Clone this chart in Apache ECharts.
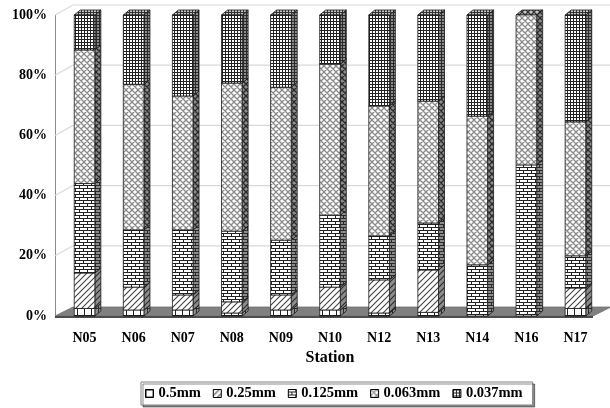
<!DOCTYPE html>
<html>
<head>
<meta charset="utf-8">
<script src="https://cdn.jsdelivr.net/npm/echarts@6/dist/echarts.min.js"></script>
<style>
  html, body { margin: 0; padding: 0; background: #fff; }
  #chart { width: 610px; height: 408px; }
</style>
</head>
<body>
<div id="chart"></div>
<script>
// Grain-size composition (%) per station, bottom to top of each column
const stations   = ['N05', 'N06', 'N07', 'N08', 'N09', 'N10', 'N12', 'N13', 'N14', 'N16', 'N17'];
const sizeClasses = ['0.5mm', '0.25mm', '0.125mm', '0.063mm', '0.037mm'];
const pct0500 = [2.5, 2.0, 2.0, 1.0, 2.0, 2.0, 1.0, 1.2, 0, 0, 2.5];
const pct0250 = [11.8, 7.6, 5.0, 3.7, 5.0, 7.6, 11.0, 14.1, 0, 0, 6.8];
const pct0125 = [29.7, 19.0, 21.6, 23.5, 18.2, 23.9, 14.6, 15.6, 17.0, 50.2, 10.7];
const pct0063 = [44.4, 48.4, 44.5, 49.2, 50.8, 50.2, 43.2, 40.5, 49.4, 49.8, 44.5];
const pct0037 = [11.6, 23.0, 26.9, 22.6, 24.0, 16.3, 30.2, 28.6, 33.6, 0, 35.5];
const percentTicks = [0, 20, 40, 60, 80, 100];

const classValues = [pct0500, pct0250, pct0125, pct0063, pct0037];
const FONT = "'Times New Roman', 'Liberation Serif', serif";

// ---- fill patterns (small repeating canvas tiles) ----
function tile(w, h, bg, draw) {
  const c = document.createElement('canvas');
  c.width = w; c.height = h;
  const g = c.getContext('2d');
  g.fillStyle = bg; g.fillRect(0, 0, w, h);
  draw(g);
  return c;
}
const tileMakers = [
  // large grid
  (bg, fg) => tile(7, 7, bg, g => { g.fillStyle = fg; g.fillRect(0, 0, 7, 1); g.fillRect(0, 0, 1, 7); }),
  // wide upward diagonal
  (bg, fg) => tile(6, 6, bg, g => {
    g.strokeStyle = fg; g.lineWidth = 1.1;
    g.beginPath();
    g.moveTo(-1, 7); g.lineTo(7, -1);
    g.moveTo(-1, 1); g.lineTo(1, -1);
    g.moveTo(5, 7); g.lineTo(7, 5);
    g.stroke();
  }),
  // horizontal brick
  (bg, fg) => tile(8, 6, fg, g => {
    g.fillStyle = bg;
    g.fillRect(0, 0, 7, 2);
    g.fillRect(4, 3, 4, 2);
    g.fillRect(0, 3, 3, 2);
  }),
  // diagonal lattice
  (bg, fg) => tile(6, 6, bg, g => {
    g.strokeStyle = fg; g.lineWidth = 1.3;
    g.beginPath();
    g.moveTo(-1, -1); g.lineTo(7, 7);
    g.moveTo(-1, 7); g.lineTo(7, -1);
    g.moveTo(5, -1); g.lineTo(7, 1);
    g.moveTo(-1, 5); g.lineTo(1, 7);
    g.moveTo(-1, 1); g.lineTo(1, -1);
    g.moveTo(5, 7); g.lineTo(7, 5);
    g.stroke();
  }),
  // small grid
  (bg, fg) => tile(3, 3, bg, g => { g.fillStyle = fg; g.fillRect(0, 0, 3, 1); g.fillRect(0, 0, 1, 3); })
];
const frontFg = ['#222', '#444', '#222', '#8a8a8a', '#222'];
const pat = c => ({ image: c, repeat: 'repeat' });
const frontFill = tileMakers.map((m, i) => pat(m('#ffffff', frontFg[i])));
const sideFill  = tileMakers.map(m => pat(m('#8c8c8c', '#2a2a2a')));
const topFill   = tileMakers.map(m => pat(m('#c4c4c4', '#333')));

// ---- stacked data: [categoryIndex, lower, upper] ----
const stackedRows = classValues.map(() => []);
stations.forEach((s, i) => {
  let base = 0;
  classValues.forEach((vals, k) => {
    stackedRows[k].push([i, base, base + vals[i]]);
    base += vals[i];
  });
});

const DX = 6, DY = 5;          // column depth offset
const WDX = 18, WDY = 9;       // floor / wall depth offset
const EDGE = '#1a1a1a';

function columnRenderer(k) {
  return function (params, api) {
    const cat = api.value(0), lo = api.value(1), hi = api.value(2);
    if (!(hi - lo > 0)) return null;
    const pLo = api.coord([cat, lo]);
    const pHi = api.coord([cat, hi]);
    const bw = api.size([1, 0])[0] * 0.42;
    const x0 = pLo[0] - bw / 2, x1 = pLo[0] + bw / 2;
    const yT = pHi[1], yB = pLo[1];
    return {
      type: 'group',
      children: [
        { type: 'polygon',
          shape: { points: [[x1, yB], [x1, yT], [x1 + DX, yT - DY], [x1 + DX, yB - DY]] },
          style: { fill: sideFill[k], stroke: EDGE, lineWidth: 0.8 } },
        { type: 'polygon',
          shape: { points: [[x0, yT], [x0 + DX, yT - DY], [x1 + DX, yT - DY], [x1, yT]] },
          style: { fill: topFill[k], stroke: EDGE, lineWidth: 0.8 } },
        { type: 'rect',
          shape: { x: x0, y: yT, width: bw, height: yB - yT },
          style: { fill: frontFill[k], stroke: EDGE, lineWidth: 0.8 } }
      ]
    };
  };
}

// back wall gridlines and the floor
function wallRenderer(params, api) {
  const cs = params.coordSys;
  const ax = cs.x - 5;
  const right = cs.x + cs.width;
  const children = [];
  percentTicks.forEach(t => {
    if (t === 0) return;
    const y = api.coord([0, t])[1];
    children.push({ type: 'polyline',
      shape: { points: [[ax, y], [ax + WDX, y - WDY - 1], [right + 12, y - WDY - 1]] },
      style: { stroke: '#d9d9d9', lineWidth: 1.2, fill: null } });
  });
  const y0 = api.coord([0, 0])[1];
  children.push({ type: 'polygon',
    shape: { points: [[ax, y0], [ax + WDX, y0 - WDY], [right + 11, y0 - WDY], [right - 7, y0]] },
    style: { fill: '#808080', stroke: '#707070', lineWidth: 0.8 } });
  children.push({ type: 'line',
    shape: { x1: ax, y1: y0 + 1, x2: right - 7, y2: y0 + 1 },
    style: { stroke: '#4d4d4d', lineWidth: 2 } });
  return { type: 'group', children };
}

const series = [{
  name: 'walls',
  type: 'custom',
  renderItem: wallRenderer,
  data: [[0, 0, 0]],
  z: 1,
  silent: true
}];
sizeClasses.forEach((name, k) => {
  series.push({
    name,
    type: 'custom',
    renderItem: columnRenderer(k),
    encode: { x: 0, y: [1, 2] },
    itemStyle: { color: frontFill[k] },
    data: stackedRows[k],
    z: 2
  });
});

const chart = echarts.init(document.getElementById('chart'), null, { renderer: 'canvas' });
chart.setOption({
  animation: false,
  backgroundColor: '#fff',
  grid: { left: 60, right: 10, top: 15, bottom: 92 },
  xAxis: {
    type: 'category',
    data: stations,
    axisLine: { show: false },
    axisTick: { show: false },
    axisLabel: { margin: 15, color: '#000', fontFamily: FONT, fontWeight: 'bold', fontSize: 14 },
    name: 'Station',
    nameLocation: 'middle',
    nameGap: 34,
    nameTextStyle: { color: '#000', fontFamily: FONT, fontWeight: 'bold', fontSize: 16 }
  },
  yAxis: {
    type: 'value',
    min: 0, max: 100, interval: 20,
    offset: 5,
    axisLine: { show: true, lineStyle: { color: '#8c8c8c', width: 1 } },
    axisTick: { show: false },
    splitLine: { show: false },
    axisLabel: { margin: 8, padding: [5, 0, 0, 0], formatter: '{value}%', color: '#000', fontFamily: FONT, fontWeight: 'bold', fontSize: 14 }
  },
  legend: {
    data: sizeClasses,
    left: 141, top: 382,
    orient: 'horizontal',
    icon: 'rect',
    itemWidth: 8, itemHeight: 8, itemGap: 12,
    padding: [4, 10, 4, 4],
    borderColor: '#808080', borderWidth: 1,
    backgroundColor: '#fff',
    shadowColor: 'rgba(0,0,0,0.45)', shadowOffsetX: 2, shadowOffsetY: 2, shadowBlur: 0,
    itemStyle: { borderColor: '#000', borderWidth: 1 },
    textStyle: { color: '#000', fontFamily: FONT, fontWeight: 'bold', fontSize: 14.5 }
  },
  series
});
</script>
</body>
</html>
